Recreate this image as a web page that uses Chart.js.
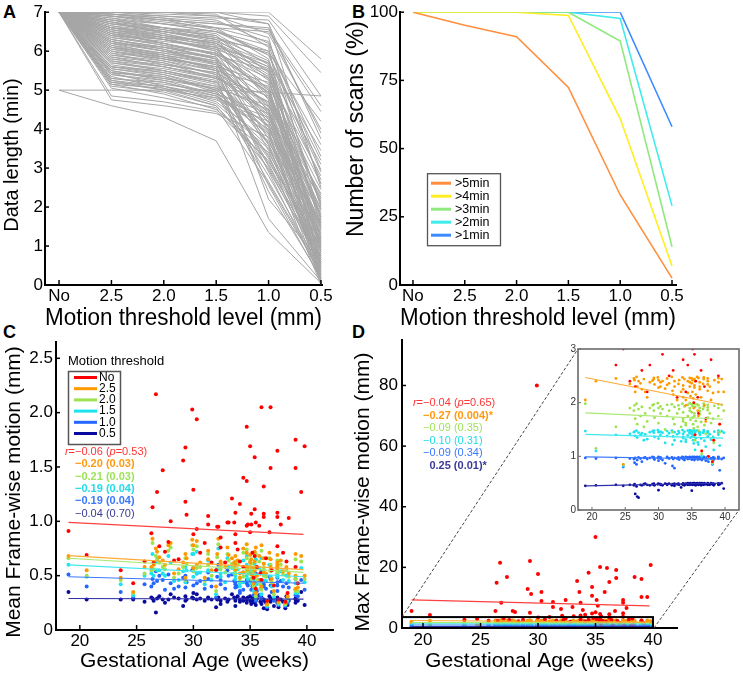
<!DOCTYPE html>
<html>
<head>
<meta charset="utf-8">
<script src="https://cdn.jsdelivr.net/npm/chart.js@4.4.1/dist/chart.umd.min.js"></script>
<style>
html,body{margin:0;padding:0;background:#fff;}
body{width:743px;height:674px;position:relative;overflow:hidden;}
canvas{position:absolute;display:block;}
.plabel{position:absolute;font:bold 18px "Liberation Sans",Arial,sans-serif;line-height:18px;color:#000;}
</style>
</head>
<body>
<canvas id="chartA" width="370" height="332" style="left:0px;top:0px;z-index:1"></canvas>
<canvas id="chartB" width="408" height="332" style="left:335px;top:0px;z-index:2"></canvas>
<canvas id="chartC" width="370" height="354" style="left:0px;top:320px;z-index:1"></canvas>
<canvas id="chartD" width="403" height="354" style="left:340px;top:320px;z-index:2"></canvas>
<canvas id="chartInset" width="188" height="200" style="left:555px;top:335px;z-index:3"></canvas>
<div class="plabel" style="left:3px;top:3px">A</div>
<div class="plabel" style="left:352px;top:3px">B</div>
<div class="plabel" style="left:3px;top:323px">C</div>
<div class="plabel" style="left:352px;top:323px">D</div>
<script>
// ---------------- DATA ----------------
const thresholdLabels = ['No','2.5','2.0','1.5','1.0','0.5'];
const thresholdX = [0,1,2,3,4,5];

// Panel A: data length (min) of each scan at each threshold
const dataLengthRows = [
 [7,7,7,7,7,5.8],[7,7,7,7,6.9,5.45],[7,6.95,6.9,6.85,6.8,4.85],[7,6.8,6.7,6.6,6.5,4.45],
 [5,5,5,5,4.95,4.85],[5,4.6,4.3,3.7,1.35,0.05],[7,6.9,6.8,6.7,6.6,3.9],[7,6.6,6.5,6.3,6.0,3.6],
 [7,7,6.9,6.8,6.2,3.3],[7,6.5,6.2,5.9,5.5,3.1],[7,6.85,6.6,6.5,5.9,2.9],[7,6.4,6.3,6.1,5.7,2.7],
 [7,6.7,6.6,6.4,5.3,2.6],[7,6.2,5.9,5.5,5.1,2.45],[7,6.55,6.35,6.0,4.9,2.3],[7,6.1,5.8,5.6,5.2,2.2],
 [7,5.9,5.7,5.3,4.7,2.15],[7,6.75,6.45,6.2,5.6,2.05],[7,6.3,6.1,5.8,4.6,1.95],[7,5.5,5.3,5.1,4.5,1.9],
 [7,6.45,6.2,5.9,5.0,1.8],[7,5.3,5.2,4.9,4.4,1.75],[7,6.6,6.4,6.2,5.4,1.7],[7,5.2,5.0,4.8,4.3,1.6],
 [7,6.0,5.75,5.4,4.2,1.55],[7,6.9,6.75,6.6,5.8,1.5],[7,5.6,5.4,5.0,4.1,1.45],[7,6.25,6.0,5.7,4.8,1.4],
 [7,5.75,5.5,5.2,3.9,1.35],[7,6.35,6.15,5.95,5.05,1.3],[7,4.75,4.6,4.4,3.8,1.25],[7,6.15,5.95,5.75,4.95,1.2],
 [7,5.45,5.1,4.7,3.7,1.15],[7,6.5,6.3,6.05,4.85,1.1],[7,5.8,5.6,5.3,3.6,1.05],[7,6.65,6.5,6.35,5.75,1.0],
 [7,5.35,5.05,4.65,3.5,0.95],[7,6.05,5.85,5.55,4.65,0.9],[7,5.15,4.9,4.5,3.4,0.85],[7,6.8,6.6,6.45,5.65,0.8],
 [7,5.65,5.45,5.15,3.3,0.75],[7,4.85,4.7,4.45,3.2,0.7],[7,6.2,6.0,5.85,4.55,0.65],[7,5.95,5.65,5.45,3.1,0.6],
 [7,6.4,6.25,6.1,5.35,0.55],[7,5.25,5.0,4.6,3.0,0.5],[7,6.7,6.55,6.3,5.5,0.45],[7,5.55,5.35,4.95,2.8,0.4],
 [7,6.3,6.05,5.65,4.4,0.35],[7,5.05,4.8,4.55,2.6,0.3],[7,6.0,5.8,5.5,4.25,0.25],[7,5.7,5.5,5.25,2.4,0.2],
 [7,6.55,6.3,6.0,5.15,0.18],[7,5.4,5.2,4.85,3.9,0.15],[7,6.75,6.5,6.25,4.75,0.12],[7,5.85,5.6,5.35,1.7,0.1],
 [7,6.1,5.9,5.7,3.6,0.08],[7,7,7,6.95,6.1,0.05],[7,6.45,6.2,5.95,4.15,0.03],[7,5.5,5.25,5.05,3.35,0.0],
 [7,7,7,7,6.7,2.5],[7,6.95,6.85,6.75,6.35,1.65],[7,7,6.95,6.9,6.45,4.0],[7,6.6,6.45,6.15,3.95,1.85],
 [7,6.25,6.05,5.8,2.2,0.6],
 [7,6.9,6.7,6.5,6.0,2.0],[7,6.8,6.55,6.4,5.45,1.6],[7,6.65,6.4,6.2,5.25,1.2],[7,6.5,6.35,6.15,5.6,0.9],
 [7,6.35,6.2,5.9,4.95,0.7],[7,6.2,6.1,5.95,5.3,2.8],[7,6.1,5.95,5.7,4.5,1.05],[7,5.95,5.8,5.6,4.35,0.4],
 [7,5.8,5.65,5.45,4.7,1.75],[7,5.6,5.45,5.2,4.05,0.85],[7,5.45,5.3,5.05,4.6,2.35],[7,5.3,5.15,4.95,3.85,0.3],
 [7,5.15,5.05,4.75,4.2,1.3],[7,6.95,6.8,6.55,5.9,3.2],[7,6.85,6.7,6.5,6.15,2.6],[7,6.75,6.6,6.35,5.95,4.2],
 [7,6.6,6.35,6.25,5.7,3.45],[7,6.45,6.3,6.05,5.55,2.1],[7,6.3,6.1,5.85,3.45,0.55],[7,6.15,5.85,5.6,2.9,0.2],
 [7,6.0,5.85,5.55,2.55,0.15],[7,5.85,5.7,5.4,3.05,0.65],[7,5.7,5.55,5.3,4.85,1.95],[7,5.55,5.4,5.1,3.25,0.95],
 [7,5.4,5.25,4.9,2.65,0.35],[7,5.25,5.1,4.8,3.55,0.75],[7,5.1,4.95,4.6,3.15,1.1],[7,6.9,6.8,6.7,6.55,4.6],
 [7,7,7,6.9,6.7,3.75],[7,6.7,6.5,6.3,5.0,1.45],[7,6.55,6.4,6.1,4.45,0.5],[7,6.4,6.15,5.8,4.05,1.15],
 [7,6.25,6.0,5.75,3.75,0.45],[7,6.05,5.9,5.65,4.3,2.25],[7,5.9,5.75,5.5,3.65,1.6],[7,5.75,5.6,5.35,4.45,1.0],
 [7,5.6,5.5,5.2,3.95,0.25],[7,5.45,5.35,5.0,2.95,0.6],[7,5.2,5.1,4.85,4.0,1.5],[7,6.95,6.85,6.6,6.25,2.95]
];

// Panel B: number of scans (%) above each data length
const scanLegend = ['>5min','>4min','>3min','>2min','>1min'];
const pct5min = [100,95.2,91.0,72.4,33.0,2.5];
const pct4min = [100,100,100,98.8,61.0,7.0];
const pct3min = [100,100,100,100,89.4,14.0];
const pct2min = [100,100,100,100,97.7,29.0];
const pct1min = [100,100,100,100,100,58.0];
const scanColors = ['#ff8f3f','#ffee22','#8fe97f','#3fecec','#3d8cff'];

// Panels C & D: gestational age of each scan
const gestAge = [19.0,20.6,23.6,24.7,25.7,26.3,26.4,26.5,26.7,26.8,
 27.0,27.3,27.5,27.8,28.0,28.3,28.7,29.1,29.3,29.3,
 29.4,29.9,30.0,30.0,30.3,30.3,30.6,31.0,31.3,31.3,
 31.6,32.0,32.1,32.2,32.4,32.4,32.8,33.0,33.1,33.4,
 33.6,33.7,33.7,33.7,33.9,34.1,34.1,34.4,34.4,34.7,
 34.7,34.7,34.8,35.0,35.0,35.1,35.1,35.2,35.3,35.4,
 35.4,35.4,35.5,35.5,35.6,35.8,35.9,36.0,36.0,36.2,
 36.2,36.2,36.4,36.5,36.7,36.8,36.8,36.9,37.1,37.4,
 37.4,37.4,37.4,37.5,37.7,37.9,38.1,38.2,38.3,38.4,
 39.0,39.0,39.0,39.2,39.5,39.8];

// Panel C: mean frame-wise motion (mm) per threshold
const meanNo = [0.91,0.69,0.55,0.43,0.63,0.89,1.13,0.62,2.17,1.27,
 0.77,1.47,0.72,0.81,1.00,0.64,0.65,1.56,1.68,1.18,
 1.06,2.03,1.29,0.88,1.94,0.93,0.71,0.80,1.05,0.97,
 0.62,0.55,0.95,0.95,0.85,0.76,0.62,0.99,0.99,1.21,
 0.99,1.08,0.88,0.80,0.74,1.16,0.63,1.40,0.58,1.87,
 1.37,0.96,0.97,1.69,0.90,1.07,0.97,0.71,0.48,1.59,
 1.11,0.68,0.99,0.38,0.58,0.96,0.52,2.05,0.46,1.32,
 1.07,1.04,0.66,0.27,0.90,2.05,1.49,0.55,0.41,1.65,
 1.08,1.04,0.77,0.28,0.97,0.71,0.26,0.63,0.34,1.03,
 1.75,1.49,0.58,0.43,1.27,1.69];
const mean25 = [0.68,0.55,0.48,0.35,0.58,0.58,0.84,0.60,0.75,0.72,
 0.67,0.64,0.60,0.78,0.80,0.52,0.56,0.62,0.70,0.48,
 0.66,0.83,0.78,0.57,0.82,0.60,0.62,0.48,0.73,0.65,
 0.55,0.40,0.70,0.84,0.63,0.61,0.58,0.76,0.69,0.66,
 0.62,0.68,0.56,0.60,0.64,0.52,0.48,0.75,0.53,0.79,
 0.58,0.71,0.56,0.69,0.62,0.65,0.51,0.57,0.43,0.72,
 0.63,0.55,0.76,0.34,0.50,0.68,0.46,0.78,0.40,0.61,
 0.66,0.53,0.52,0.24,0.71,0.65,0.58,0.47,0.36,0.69,
 0.60,0.57,0.62,0.26,0.64,0.54,0.25,0.58,0.31,0.52,
 0.70,0.38,0.50,0.39,0.68,0.50];
const mean20 = [0.66,0.50,0.46,0.34,0.52,0.55,0.80,0.56,0.68,0.65,
 0.62,0.58,0.56,0.73,0.76,0.48,0.52,0.58,0.66,0.46,
 0.61,0.78,0.74,0.54,0.77,0.57,0.58,0.45,0.70,0.60,
 0.50,0.36,0.67,0.79,0.59,0.56,0.53,0.70,0.64,0.61,
 0.58,0.63,0.52,0.55,0.60,0.48,0.45,0.71,0.49,0.74,
 0.54,0.66,0.52,0.64,0.58,0.61,0.47,0.54,0.40,0.68,
 0.58,0.51,0.70,0.31,0.46,0.63,0.42,0.73,0.37,0.57,
 0.61,0.50,0.49,0.23,0.66,0.60,0.54,0.44,0.33,0.64,
 0.56,0.53,0.58,0.25,0.60,0.51,0.24,0.55,0.29,0.49,
 0.65,0.36,0.47,0.36,0.63,0.47];
const mean15 = [0.60,0.49,0.42,0.32,0.50,0.52,0.70,0.50,0.62,0.55,
 0.55,0.52,0.50,0.68,0.62,0.45,0.46,0.54,0.58,0.44,
 0.55,0.70,0.70,0.49,0.72,0.52,0.53,0.42,0.64,0.55,
 0.46,0.33,0.56,0.75,0.52,0.49,0.44,0.66,0.58,0.57,
 0.52,0.55,0.47,0.50,0.56,0.43,0.40,0.64,0.44,0.68,
 0.50,0.60,0.47,0.58,0.53,0.56,0.43,0.48,0.36,0.61,
 0.51,0.46,0.65,0.29,0.42,0.57,0.38,0.66,0.33,0.52,
 0.55,0.45,0.45,0.22,0.60,0.55,0.49,0.40,0.30,0.58,
 0.51,0.49,0.52,0.24,0.54,0.46,0.23,0.50,0.27,0.45,
 0.58,0.34,0.43,0.34,0.57,0.44];
const mean10 = [0.51,0.40,0.35,0.30,0.42,0.40,0.47,0.43,0.54,0.45,
 0.50,0.46,0.37,0.51,0.43,0.38,0.40,0.48,0.50,0.39,
 0.44,0.55,0.57,0.41,0.52,0.43,0.45,0.38,0.53,0.47,
 0.40,0.30,0.49,0.60,0.46,0.42,0.38,0.55,0.50,0.51,
 0.45,0.39,0.42,0.44,0.40,0.36,0.34,0.53,0.37,0.57,
 0.43,0.46,0.41,0.46,0.45,0.47,0.37,0.40,0.32,0.50,
 0.43,0.39,0.52,0.27,0.36,0.46,0.32,0.54,0.29,0.45,
 0.42,0.40,0.38,0.21,0.49,0.47,0.41,0.35,0.27,0.48,
 0.44,0.41,0.36,0.23,0.45,0.40,0.22,0.43,0.25,0.39,
 0.47,0.32,0.37,0.31,0.46,0.37];
const mean05 = [0.35,0.28,0.28,0.28,0.26,0.30,0.29,0.27,0.16,0.29,
 0.31,0.28,0.25,0.28,0.33,0.30,0.29,0.22,0.27,0.31,
 0.28,0.30,0.34,0.29,0.33,0.28,0.29,0.27,0.30,0.29,
 0.28,0.21,0.28,0.30,0.24,0.27,0.29,0.26,0.28,0.33,
 0.30,0.22,0.29,0.27,0.31,0.28,0.26,0.30,0.27,0.29,
 0.25,0.28,0.30,0.27,0.31,0.26,0.24,0.29,0.27,0.28,
 0.30,0.25,0.27,0.23,0.29,0.32,0.26,0.30,0.24,0.28,
 0.20,0.27,0.25,0.19,0.31,0.29,0.26,0.28,0.22,0.30,
 0.27,0.25,0.29,0.21,0.28,0.26,0.20,0.31,0.23,0.27,
 0.25,0.28,0.29,0.27,0.35,0.23];

// Panel D: max frame-wise motion (mm) per threshold
const maxNo = [5.6,4.3,2.7,3.0,2.4,5.6,14.9,2.3,21.5,8.3,
 3.1,16.8,2.6,5.6,5.3,2.2,2.7,12.9,22.1,5.0,
 11.2,80,17.8,3.5,11.9,8.9,2.9,3.6,8.6,6.9,
 2.5,6.3,4.0,2.6,9.2,3.2,2.1,6.9,3.9,15.5,
 11.9,8.3,4.1,2.8,5.9,4.4,2.2,18.2,2.7,13.5,
 10.6,4.8,3.3,30.0,5.2,9.2,3.0,7.3,2.0,20.1,
 4.6,2.9,3.8,1.4,2.4,11.9,2.1,19.8,1.8,15.2,
 4.5,3.4,2.6,1.1,5.6,19.1,16.5,2.3,1.7,9.2,
 8.3,3.7,4.9,1.0,6.6,2.8,0.9,3.1,1.3,16.8,
 16.2,10.2,2.5,1.6,10.2,20.8];
const max25 = [2.05,2.40,2.45,0.85,2.35,2.45,2.42,2.20,2.48,2.30,
 2.40,2.36,2.25,2.44,2.20,2.10,2.38,2.41,2.44,2.46,
 2.34,2.47,2.42,2.28,2.38,2.30,2.40,2.26,2.45,2.33,
 2.36,2.48,2.22,2.15,2.40,2.30,2.05,2.35,2.42,2.20,
 2.47,2.10,2.32,2.25,2.44,2.05,1.95,2.40,2.18,2.46,
 2.30,2.38,2.12,2.45,2.36,2.42,2.20,2.08,1.90,2.44,
 2.32,2.28,2.40,1.40,2.15,2.48,1.85,2.46,1.75,2.38,
 2.25,2.30,2.10,1.10,2.35,2.47,2.44,1.95,1.65,2.40,
 2.45,2.22,2.34,1.00,2.30,2.05,0.90,2.18,1.30,2.42,
 2.46,2.38,2.20,1.60,2.44,2.20];
const max20 = [1.98,1.15,1.55,0.85,1.90,1.85,1.95,1.70,1.98,1.60,
 1.88,1.75,1.92,1.55,1.80,1.65,1.90,1.95,1.97,1.85,
 1.72,1.99,1.90,1.62,1.93,1.80,1.88,1.50,1.96,1.75,
 1.85,1.97,1.45,1.70,1.92,1.60,1.80,1.95,1.88,1.55,
 1.98,1.65,1.82,1.70,1.93,1.58,1.62,1.96,1.75,1.99,
 1.85,1.90,1.68,1.97,1.82,1.94,1.72,1.60,1.52,1.98,
 1.80,1.75,1.92,1.30,1.66,1.97,1.55,1.95,1.48,1.90,
 1.78,1.84,1.64,1.05,1.88,1.98,1.93,1.58,1.42,1.91,
 1.96,1.72,1.86,0.98,1.80,1.62,0.88,1.70,1.25,1.94,
 1.97,1.90,1.75,1.45,1.96,1.85];
const max15 = [1.47,1.10,1.40,0.82,1.42,1.45,1.46,1.38,1.48,1.35,
 1.44,1.40,1.43,1.30,1.41,1.32,1.45,1.47,1.48,1.44,
 1.36,1.49,1.45,1.33,1.46,1.40,1.44,1.25,1.47,1.38,
 1.43,1.48,1.22,1.37,1.45,1.30,1.41,1.47,1.44,1.28,
 1.49,1.34,1.42,1.36,1.46,1.27,1.31,1.48,1.39,1.49,
 1.43,1.45,1.35,1.48,1.42,1.46,1.37,1.30,1.24,1.49,
 1.41,1.39,1.45,1.12,1.34,1.48,1.26,1.47,1.22,1.45,
 1.40,1.43,1.33,1.00,1.44,1.49,1.46,1.29,1.18,1.45,
 1.47,1.37,1.44,0.95,1.41,1.31,0.86,1.36,1.12,1.46,
 1.48,1.44,1.40,1.20,1.47,1.44];
const max10 = [0.97,0.96,0.97,0.80,0.96,0.95,0.88,0.97,0.85,0.93,
 0.98,0.96,0.90,0.97,0.98,0.95,0.97,0.99,0.96,0.98,
 0.94,0.97,0.99,0.92,0.96,0.98,0.93,0.87,0.97,0.99,
 0.96,0.98,0.82,0.95,0.97,0.78,0.96,0.98,0.94,0.97,
 0.99,0.95,0.98,0.96,0.93,0.97,0.99,0.98,0.95,0.97,
 0.99,0.96,0.98,0.94,0.97,0.99,0.95,0.98,0.96,0.97,
 0.99,0.93,0.98,0.96,0.97,0.99,0.94,0.98,0.96,0.97,
 0.99,0.95,0.98,0.93,0.97,0.99,0.96,0.98,0.92,0.97,
 0.99,0.95,0.98,0.90,0.97,0.96,0.85,0.98,0.94,0.97,
 0.99,0.96,0.98,0.74,0.95,0.97];
const max05 = [0.45,0.46,0.47,0.45,0.47,0.46,0.48,0.30,0.44,0.25,
 0.23,0.47,0.46,0.48,0.49,0.47,0.46,0.48,0.47,0.49,
 0.46,0.48,0.37,0.49,0.47,0.48,0.46,0.49,0.47,0.48,
 0.49,0.46,0.48,0.47,0.49,0.45,0.48,0.49,0.47,0.42,
 0.48,0.49,0.47,0.49,0.46,0.48,0.49,0.47,0.50,0.48,
 0.49,0.47,0.50,0.48,0.36,0.49,0.47,0.50,0.48,0.49,
 0.47,0.50,0.48,0.49,0.46,0.50,0.48,0.49,0.47,0.50,
 0.48,0.49,0.46,0.50,0.48,0.49,0.47,0.50,0.48,0.49,
 0.47,0.50,0.48,0.49,0.47,0.50,0.48,0.49,0.46,0.48,
 0.49,0.47,0.49,0.48,0.50,0.40];

const seriesLabels = ['No','2.5','2.0','1.5','1.0','0.5'];
const seriesColors = ['#ff0000','#ff9900','#9de24f','#1ee3ef','#2466ff','#0a0a9e'];
const fitColors = ['#ff4040','#ffaa33','#aae870','#40e8f0','#3a78ff','#3030aa'];
const legendTitle = 'Motion threshold';

// axis titles
const titleThreshold = 'Motion threshold level (mm)';
const titleDataLength = 'Data length (min)';
const titleScans = 'Number of scans (%)';
const titleAge = 'Gestational Age (weeks)';
const titleMean = 'Mean Frame-wise motion (mm)';
const titleMax = 'Max Frame-wise motion (mm)';

// regression lines (value at start / end age)
const fitAges = [19, 39.7];
const meanFits = [[0.99,0.88],[0.685,0.555],[0.66,0.53],[0.60,0.49],[0.49,0.43],[0.29,0.285]];
const maxFits = [[9.3,7.3],[2.47,1.96],[1.81,1.69],[1.41,1.34],[0.99,0.95],[0.45,0.50]];

// correlation annotations
const meanCorr = ['\u22120.06 (p=0.53)','\u22120.20 (0.03)','\u22120.21 (0.03)','\u22120.19 (0.04)','\u22120.19 (0.04)','\u22120.04 (0.70)'];
const meanCorrBold = [false,true,true,true,true,false];
const maxCorr = ['\u22120.04 (p=0.65)','\u22120.27 (0.004)*','\u22120.09 (0.35)','\u22120.10 (0.31)','\u22120.09 (0.34)','0.25 (0.01)*'];
const maxCorrBold = [false,true,false,false,false,true];
const corrColors = ['#ff3535','#ff9a10','#9ee25a','#22dde8','#3a78ff','#3a3a98'];

// ---------------- HELPERS ----------------
const FONT = '"Liberation Sans", Arial, Helvetica, sans-serif';
Chart.defaults.font.family = FONT;
Chart.defaults.color = '#000';
Chart.defaults.animation = false;
Chart.defaults.events = [];
Chart.defaults.plugins.legend.display = false;
Chart.defaults.plugins.tooltip.enabled = false;

function fixedTicks(vals){ return s => { s.ticks = vals.map(v => ({value: v})); }; }

function xAxis(o){
  return {type:'linear', min:o.min, max:o.max, afterBuildTicks: fixedTicks(o.ticks),
    ticks:{callback:o.cb, font:{size:o.fs}, padding:o.pad, maxRotation:0, autoSkip:false, color:o.color||'#000'},
    grid:{display:false, drawTicks:false},
    border:{display:o.border!==false, color:'#000', width:2},
    title:{display:!!o.title, text:o.title, font:{size:o.tfs}, color:'#000', padding:{top:0,bottom:o.tpad||0}},
    afterFit: s => { s.height = o.h; }};
}
function yAxis(o){
  return {type:'linear', min:o.min, max:o.max, afterBuildTicks: fixedTicks(o.ticks),
    ticks:{callback:o.cb, font:{size:o.fs}, padding:o.pad, autoSkip:false, color:o.color||'#000'},
    grid:{display:false, drawTicks:false},
    border:{display:o.border!==false, color:'#000', width:2},
    title:{display:false},
    afterFit: s => { s.width = o.w; }};
}

const inTicks = {id:'inTicks', afterDraw(chart, args, opts){
  const ctx = chart.ctx; ctx.save();
  ctx.strokeStyle = opts.color || '#000'; ctx.lineWidth = opts.width || 1.5;
  ['x','y'].forEach(id => {
    const s = chart.scales[id]; const len = opts[id]; if (!s || !len) return;
    s.ticks.forEach(t => {
      const p = s.getPixelForValue(t.value);
      ctx.beginPath();
      if (s.isHorizontal()) { ctx.moveTo(p, s.top); ctx.lineTo(p, s.top - len); }
      else { ctx.moveTo(s.right, p); ctx.lineTo(s.right + len, p); }
      ctx.stroke();
    });
  });
  ctx.restore();
}};

// rotated y-axis title, centred at (x, y) in canvas pixels
const yTitle = {id:'yTitle', afterDraw(chart, args, o){
  if (!o || !o.text) return;
  const c = chart.ctx; c.save();
  c.translate(o.x, o.y); c.rotate(-Math.PI / 2);
  c.font = o.size + 'px ' + FONT; c.fillStyle = '#000'; c.textAlign = 'center'; c.textBaseline = 'middle';
  c.fillText(o.text, 0, 0); c.restore();
}};

function drawCorr(ctx, x0, y, str, color, bold, size, withR){
  const base = (bold ? 'bold ' : '') + size + 'px ' + FONT;
  const ital = (bold ? 'italic bold ' : 'italic ') + size + 'px ' + FONT;
  ctx.fillStyle = color; ctx.textBaseline = 'middle';
  if (withR){
    ctx.font = base; ctx.textAlign = 'right'; ctx.fillText('=', x0, y);
    const w = ctx.measureText('=').width;
    ctx.font = ital; ctx.fillText('r', x0 - w, y);
  }
  ctx.textAlign = 'left';
  let x = x0;
  str.split(/(p)/).forEach(part => {
    if (!part) return;
    ctx.font = part === 'p' ? ital : base;
    ctx.fillText(part, x, y);
    x += ctx.measureText(part).width;
  });
}

function scatterSets(cols, r, filterMax){
  return cols.map((vals, k) => ({
    type:'scatter', label: seriesLabels[k],
    data: vals.map((v, i) => ({x: gestAge[i], y: v})).filter(p => filterMax === undefined || p.y <= filterMax),
    backgroundColor: seriesColors[k], borderWidth: 0, pointRadius: r, pointHoverRadius: r
  }));
}
function fitSets(fits, w){
  return fits.map((f, k) => ({
    type:'line', label: seriesLabels[k] + ' fit',
    data: [{x: fitAges[0], y: f[0]}, {x: fitAges[1], y: f[1]}],
    borderColor: fitColors[k], borderWidth: w, pointRadius: 0, fill: false, tension: 0
  }));
}

// ---------------- PANEL A ----------------
new Chart(document.getElementById('chartA'), {
  type:'line',
  data:{datasets: dataLengthRows.map((row, j) => ({
    label:'scan ' + (j+1),
    data: row.map((v, i) => ({x: thresholdX[i], y: v})),
    borderColor:'#a6a6a6', borderWidth:1, pointRadius:0, tension:0, fill:false}))},
  options:{responsive:false,
    layout:{padding:{left:0, right:48, top:12, bottom:0}},
    scales:{
      x: xAxis({min:-0.268, max:5.02, ticks:thresholdX, cb:v => thresholdLabels[v], fs:17, pad:1, title:titleThreshold, tfs:23, h:47}),
      y: yAxis({min:0, max:7, ticks:[0,1,2,3,4,5,6,7], cb:v => String(v), fs:17, pad:2, w:45})
    },
    plugins:{inTicks:{x:5, y:4}, yTitle:{text:titleDataLength, size:20, x:12, y:155}}
  },
  plugins:[inTicks, yTitle]
});

// ---------------- PANEL B ----------------
const pctSeries = [pct5min, pct4min, pct3min, pct2min, pct1min];
const legendB = {id:'legendB', afterDraw(chart){
  const ctx = chart.ctx, a = chart.chartArea;
  const bx = a.left + 27, by = a.top + 161;
  ctx.save();
  ctx.fillStyle = '#fff'; ctx.fillRect(bx, by, 73, 72);
  ctx.strokeStyle = '#555'; ctx.lineWidth = 1.3; ctx.strokeRect(bx + 0.5, by + 0.5, 73, 72);
  ctx.font = '12.5px ' + FONT; ctx.textBaseline = 'middle'; ctx.textAlign = 'left';
  scanLegend.forEach((lab, k) => {
    const y = by + 10 + k * 13;
    ctx.strokeStyle = scanColors[k]; ctx.lineWidth = 3;
    ctx.beginPath(); ctx.moveTo(bx + 4, y); ctx.lineTo(bx + 24, y); ctx.stroke();
    ctx.fillStyle = '#000'; ctx.fillText(lab, bx + 28, y);
  });
  ctx.restore();
}};
new Chart(document.getElementById('chartB'), {
  type:'line',
  data:{datasets: pctSeries.map((vals, k) => ({
    label: scanLegend[k],
    data: vals.map((v, i) => ({x: thresholdX[i], y: v})),
    borderColor: scanColors[k], borderWidth: 1.6, pointRadius: 0, tension: 0, fill: false}))},
  options:{responsive:false,
    layout:{padding:{left:0, right:67, top:12, bottom:0}},
    scales:{
      x: xAxis({min:-0.25, max:5.077, ticks:thresholdX, cb:v => thresholdLabels[v], fs:17, pad:1, title:titleThreshold, tfs:23, h:47}),
      y: yAxis({min:0, max:100, ticks:[0,25,50,75,100], cb:v => String(v), fs:17, pad:2, w:65})
    },
    plugins:{inTicks:{x:5, y:4}, yTitle:{text:titleScans, size:23, x:22, y:129}}
  },
  plugins:[inTicks, legendB, yTitle]
});

// ---------------- PANEL C ----------------
const legendC = {id:'legendC', afterDraw(chart){
  const ctx = chart.ctx, a = chart.chartArea;
  const bx = a.left + 12, by = a.top + 29;
  ctx.save();
  ctx.font = '13px ' + FONT; ctx.fillStyle = '#000'; ctx.textBaseline = 'middle'; ctx.textAlign = 'left';
  ctx.fillText(legendTitle, bx, a.top + 19);
  ctx.strokeStyle = '#555'; ctx.lineWidth = 1.5; ctx.strokeRect(bx + 0.5, by + 0.5, 52, 73);
  ctx.font = '12px ' + FONT;
  seriesLabels.forEach((lab, k) => {
    const y = by + 6.5 + k * 11.2;
    ctx.strokeStyle = seriesColors[k]; ctx.lineWidth = 3;
    ctx.beginPath(); ctx.moveTo(bx + 6, y); ctx.lineTo(bx + 29, y); ctx.stroke();
    ctx.fillStyle = '#000'; ctx.fillText(lab, bx + 31, y);
  });
  meanCorr.forEach((s, k) => drawCorr(ctx, a.left + 19, a.top + 110 + k * 12.3, s, corrColors[k], meanCorrBold[k], 11, k === 0));
  ctx.restore();
}};
new Chart(document.getElementById('chartC'), {
  type:'scatter',
  data:{datasets: fitSets(meanFits, 1.2).concat(scatterSets([meanNo, mean25, mean20, mean15, mean10, mean05], 2))},
  options:{responsive:false,
    layout:{padding:{left:0, right:37, top:22, bottom:0}},
    scales:{
      x: xAxis({min:17.9, max:42.3, ticks:[20,25,30,35,40], cb:v => String(v), fs:17, pad:1, title:titleAge, tfs:21, h:44}),
      y: yAxis({min:0, max:2.65, ticks:[0,0.5,1,1.5,2,2.5], cb:v => v === 0 ? '0' : v.toFixed(1), fs:17, pad:3, w:56})
    },
    plugins:{inTicks:{x:5, y:4}, yTitle:{text:titleMean, size:21, x:14, y:172}}
  },
  plugins:[inTicks, legendC, yTitle]
});

// ---------------- INSET (D zoom) ----------------
const INSET_LEFT = 555, INSET_TOP = 335, D_LEFT = 340, D_TOP = 320;
const insetFrame = {id:'insetFrame',
  beforeDraw(chart){ const c = chart.ctx, a = chart.chartArea; c.save(); c.fillStyle = '#fff'; c.fillRect(a.left, a.top, a.right - a.left, a.bottom - a.top); c.restore(); },
  afterDraw(chart){ const c = chart.ctx, a = chart.chartArea; c.save(); c.strokeStyle = '#6a6a6a'; c.lineWidth = 1.6; c.strokeRect(a.left, a.top, a.right - a.left, a.bottom - a.top); c.restore(); }
};
const insetChart = new Chart(document.getElementById('chartInset'), {
  type:'scatter',
  data:{datasets: fitSets(maxFits.slice(1), 1.1).map((d, k) => Object.assign(d, {borderColor: fitColors[k + 1]}))
    .concat(scatterSets([maxNo, max25, max20, max15, max10, max05], 1.4, 3))},
  options:{responsive:false,
    layout:{padding:{left:0, right:4, top:14, bottom:0}},
    scales:{
      x: xAxis({min:17.9, max:42.1, ticks:[20,25,30,35,40], cb:v => String(v), fs:10, pad:1, h:25, border:false, color:'#333'}),
      y: yAxis({min:0, max:3, ticks:[0,1,2,3], cb:v => String(v), fs:10, pad:2, w:23, border:false, color:'#333'})
    },
    plugins:{inTicks:{x:3, y:3, color:'#6a6a6a', width:1}}
  },
  plugins:[insetFrame, inTicks]
});

// ---------------- PANEL D ----------------
const zoomRegion = {xMax: 40, yMax: 3.6};
const zoomBox = {id:'zoomBox', afterDatasetsDraw(chart){
  const ctx = chart.ctx, xs = chart.scales.x, ys = chart.scales.y;
  const l = xs.left, r = xs.getPixelForValue(zoomRegion.xMax);
  const t = ys.getPixelForValue(zoomRegion.yMax), b = ys.getPixelForValue(0);
  const ia = insetChart.chartArea;
  const ox = INSET_LEFT - D_LEFT, oy = INSET_TOP - D_TOP;
  ctx.save();
  ctx.strokeStyle = '#444'; ctx.lineWidth = 1; ctx.setLineDash([3, 2]);
  ctx.beginPath(); ctx.moveTo(l, t); ctx.lineTo(ox + ia.left, oy + ia.top); ctx.stroke();
  ctx.beginPath(); ctx.moveTo(r + 1, b); ctx.lineTo(ox + ia.right, oy + ia.bottom); ctx.stroke();
  ctx.setLineDash([]); ctx.strokeStyle = '#000'; ctx.lineWidth = 2;
  ctx.strokeRect(l, t, r - l, b - t);
  maxCorr.forEach((s, k) => drawCorr(ctx, chart.chartArea.left + 21 + (k === 5 ? 6.4 : 0), chart.chartArea.top + 63 + k * 12.6, s, corrColors[k], maxCorrBold[k], 11, k === 0));
  ctx.restore();
}};
new Chart(document.getElementById('chartD'), {
  type:'scatter',
  data:{datasets: fitSets(maxFits, 1.2).concat(scatterSets([maxNo, max25, max20, max15, max10, max05], 2))},
  options:{responsive:false,
    layout:{padding:{left:0, right:66, top:20, bottom:0}},
    scales:{
      x: xAxis({min:18.17, max:42.09, ticks:[20,25,30,35,40], cb:v => String(v), fs:17, pad:2, title:titleAge, tfs:21, h:46}),
      y: yAxis({min:0, max:95, ticks:[0,20,40,60,80], cb:v => String(v), fs:17, pad:4, w:62})
    },
    plugins:{inTicks:{x:5, y:4}, yTitle:{text:titleMax, size:21, x:23, y:172}}
  },
  plugins:[inTicks, zoomBox, yTitle]
});
</script>
</body>
</html>
